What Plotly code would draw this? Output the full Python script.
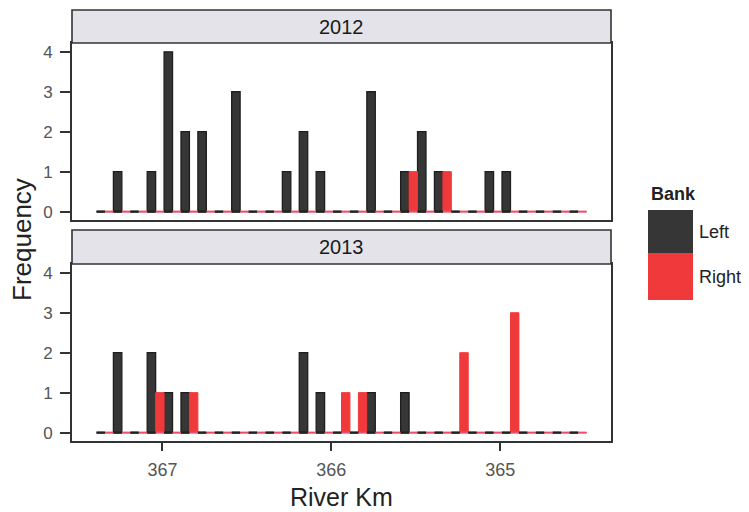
import plotly.graph_objects as go

# ---- data ----
bin_centers = [367.34, 367.24, 367.14, 367.04, 366.94, 366.84, 366.74, 366.64, 366.54, 366.44,
               366.34, 366.24, 366.14, 366.04, 365.94, 365.84, 365.74, 365.64, 365.54, 365.44,
               365.34, 365.24, 365.14, 365.04, 364.94, 364.84, 364.74, 364.64, 364.54]
bin_width = 0.1
left_2012 = [0, 1, 0, 1, 4, 2, 2, 0, 3, 0, 0, 1, 2, 1, 0, 0, 3, 0, 1, 2, 1, 0, 0, 1, 1, 0, 0, 0, 0]
right_2012 = [0, 0, 0, 0, 0, 0, 0, 0, 0, 0, 0, 0, 0, 0, 0, 0, 0, 0, 1, 0, 1, 0, 0, 0, 0, 0, 0, 0, 0]
left_2013 = [0, 2, 0, 2, 1, 1, 0, 0, 0, 0, 0, 0, 2, 1, 0, 0, 1, 0, 1, 0, 0, 0, 0, 0, 0, 0, 0, 0, 0]
right_2013 = [0, 0, 0, 1, 0, 1, 0, 0, 0, 0, 0, 0, 0, 0, 1, 1, 0, 0, 0, 0, 0, 2, 0, 0, 3, 0, 0, 0, 0]
years = ["2012", "2013"]
x_ticks = [367, 366, 365]
y_ticks = [0, 1, 2, 3, 4]
banks = ["Left", "Right"]

BLACK = "#363636"
RED = "#f0393b"
RED_ZERO = "#e8506e"
FONT = "Liberation Sans, Arial, Helvetica, sans-serif"

fig = go.Figure()
half = bin_width / 2
panels = [(left_2012, right_2012, "x", "y"), (left_2013, right_2013, "x2", "y2")]
for lv, rv, xa, ya in panels:
    # baseline dashes (zero-height bars drawn as outlines in original)
    lx, ly, rx, ry = [], [], [], []
    for c in bin_centers:
        lx += [c + half, c, None]
        ly += [0, 0, None]
        rx += [c, c - half, None]
        ry += [0, 0, None]
    fig.add_trace(go.Scatter(x=rx, y=ry, mode="lines", line=dict(color=RED_ZERO, width=2),
                             xaxis=xa, yaxis=ya, showlegend=False, hoverinfo="skip"))
    fig.add_trace(go.Scatter(x=lx, y=ly, mode="lines", line=dict(color="#222222", width=2.5),
                             xaxis=xa, yaxis=ya, showlegend=False, hoverinfo="skip"))
    fig.add_trace(go.Bar(x=bin_centers, y=lv, width=half, offset=0, name=banks[0],
                         marker=dict(color=BLACK, line=dict(color="#1e1e1e", width=1.3)),
                         xaxis=xa, yaxis=ya, showlegend=False))
    fig.add_trace(go.Bar(x=bin_centers, y=rv, width=half, offset=-half, name=banks[1],
                         marker=dict(color=RED, line=dict(color=RED, width=1)),
                         xaxis=xa, yaxis=ya, showlegend=False))

# page body has an 8px margin: shrink figure and margins accordingly
OFF = 8
L, R, T, B = 72, 138, 9, 71
W, H = 749 - OFF, 512 - OFF
PW, PH = W - (L - OFF) - R, H - (T - OFF) - B


def py(p):
    return 1 - (p - T) / PH


def px(p):
    return (p - L) / PW


x_range = [367.535, 364.345]
y_range = [-0.21, 4.22]
axis_line = dict(showline=True, linecolor="#333333", linewidth=1.6, mirror=True,
                 showgrid=False, zeroline=False)
tick_font = dict(size=17, color="#555555")

fig.update_layout(
    width=W, height=H,
    margin=dict(l=L - OFF, r=R, t=T - OFF, b=B, pad=0),
    paper_bgcolor="white", plot_bgcolor="white",
    barmode="overlay",
    showlegend=False,
    font=dict(family=FONT),
    xaxis=dict(domain=[0, 1], anchor="y", range=x_range, showticklabels=False, ticks="",
               **axis_line),
    yaxis=dict(domain=[py(220), py(43)], anchor="x", range=y_range, tickvals=y_ticks,
               ticks="outside", ticklen=10, tickwidth=1.6, tickcolor="#333333",
               ticklabelstandoff=4, tickfont=tick_font, **axis_line),
    xaxis2=dict(domain=[0, 1], anchor="y2", range=x_range, tickvals=x_ticks,
                ticks="outside", ticklen=8, tickwidth=1.6, tickcolor="#333333",
                ticklabelstandoff=4, tickfont=dict(size=18, color="#555555"), **axis_line),
    yaxis2=dict(domain=[0, py(264)], anchor="x2", range=y_range, tickvals=y_ticks,
                ticks="outside", ticklen=10, tickwidth=1.6, tickcolor="#333333",
                ticklabelstandoff=4, tickfont=tick_font, **axis_line),
)

shapes = []
annotations = []
# facet strips
for yr, (top, bot) in zip(years, [(10, 43), (230, 264)]):
    shapes.append(dict(type="rect", xref="paper", yref="paper", x0=0, x1=1,
                       y0=py(bot), y1=py(top), fillcolor="#e5e3ea",
                       line=dict(color="#333333", width=1.6), layer="above"))
    annotations.append(dict(text=yr, xref="paper", yref="paper", x=0.5, y=py((top + bot) / 2),
                            showarrow=False, xanchor="center", yanchor="middle",
                            font=dict(size=20, color="#1a1a1a")))

# axis titles
annotations.append(dict(text="Frequency", xref="paper", yref="paper", x=px(22), y=py(240),
                        textangle=-90, showarrow=False, xanchor="center", yanchor="middle",
                        font=dict(size=26, color="#222222")))
annotations.append(dict(text="River Km", xref="paper", yref="paper", x=0.5, y=py(497),
                        showarrow=False, xanchor="center", yanchor="middle",
                        font=dict(size=25, color="#222222")))

# legend
annotations.append(dict(text="<b>Bank</b>", xref="paper", yref="paper", x=px(649), y=py(194),
                        showarrow=False, xanchor="left", yanchor="middle",
                        font=dict(size=18, color="#222222")))
for name, col, (top, bot) in zip(banks, [BLACK, RED], [(210, 253), (253, 300)]):
    shapes.append(dict(type="rect", xref="paper", yref="paper", x0=px(648), x1=px(693),
                       y0=py(bot), y1=py(top), fillcolor=col, line=dict(width=0)))
    annotations.append(dict(text=name, xref="paper", yref="paper", x=px(697),
                            y=py((top + bot) / 2), showarrow=False, xanchor="left",
                            yanchor="middle", font=dict(size=18, color="#222222")))

fig.update_layout(shapes=shapes, annotations=annotations)
fig.write_html("out.html")
